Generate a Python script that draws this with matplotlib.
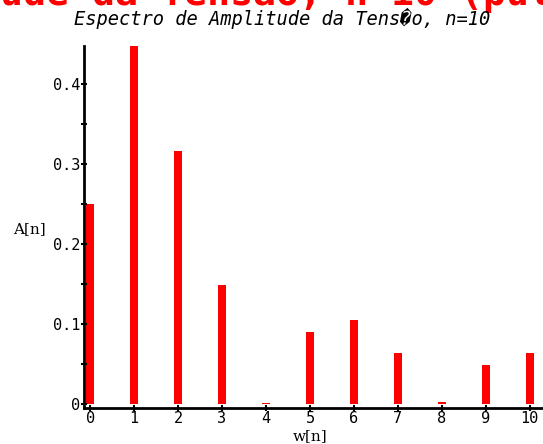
import matplotlib
matplotlib.use('Agg')
import matplotlib.pyplot as plt
from matplotlib.ticker import MultipleLocator

# dados do espectro
n = [0, 1, 2, 3, 4, 5, 6, 7, 8, 9, 10]
amp = [0.25, 0.447, 0.316, 0.149, 0.001, 0.09, 0.105, 0.064, 0.002, 0.049, 0.064]
ticks_x = [str(v) for v in n]

fig = plt.figure(figsize=(5.43, 4.44), dpi=100)
ax = fig.add_axes([84/543, 36/444, (543-84)/543, (408-46)/444])

ax.bar(n, amp, width=0.18, color='#ff0000', align='center')
ax.set_xlim(-0.14, 10.3)
ax.set_ylim(-0.005, 0.4475)

# eixos
for s in ['top', 'right']:
    ax.spines[s].set_visible(False)
ax.spines['left'].set_linewidth(2)
ax.spines['bottom'].set_linewidth(2)

mono = 'DejaVu Sans Mono'
ax.set_xticks(n)
ax.set_xticklabels(ticks_x, family=mono, fontsize=11)
ax.yaxis.set_major_locator(MultipleLocator(0.1))
ax.yaxis.set_minor_locator(MultipleLocator(0.05))
ax.set_yticks([0, 0.1, 0.2, 0.3, 0.4])
ax.set_yticklabels(['0', '0.1', '0.2', '0.3', '0.4'], family=mono, fontsize=11)
ax.tick_params(axis='x', which='major', direction='inout', length=5, width=1.5, pad=0)
ax.tick_params(axis='y', which='major', direction='inout', length=5, width=1.5, pad=0)
ax.tick_params(axis='y', which='minor', direction='inout', length=4, width=1.5)

# rótulos
fig.text(13/543, 1 - 233/444, 'A[n]', family='DejaVu Serif', fontsize=11)
fig.text(310/543, 1 - 440/444, 'w[n]', family='DejaVu Serif', fontsize=11, ha='center')

# títulos
fig.text(-414/543, 1 - 5/444, 'Espectro de Amplitude da Tensão, n=10 (pulsos 1)',
         family=mono, fontweight='bold', fontsize=27.5, color='#ff0000', va='baseline')
fig.text(282/543, 1 - 25/444, 'Espectro de Amplitude da Tens\ufffdo, n=10',
         family=mono, style='italic', fontsize=13.5, ha='center', va='baseline')

plt.savefig('out.png', dpi=100)
